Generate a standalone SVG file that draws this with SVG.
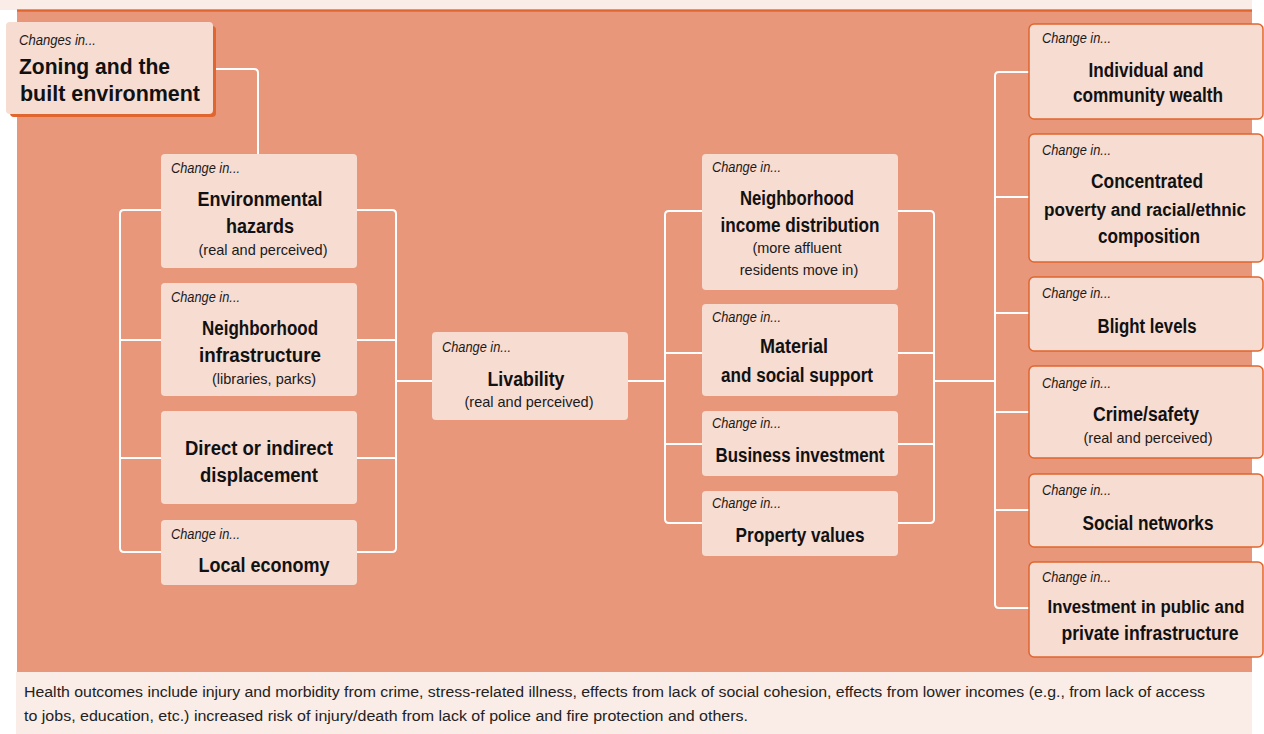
<svg xmlns="http://www.w3.org/2000/svg" width="1264" height="734" viewBox="0 0 1264 734">
<style>
.box{fill:#f7dcd2}
.rbox{fill:#f7dcd2;stroke:#e0652f;stroke-width:1.5}
.cin{font-family:"Liberation Sans",Arial,sans-serif;font-style:italic;font-size:14px;fill:#1a1a1a}
.t{font-family:"Liberation Sans",Arial,sans-serif;font-weight:bold;font-size:20px;fill:#111;text-anchor:middle}
.tn{font-size:18px}
.s{font-family:"Liberation Sans",Arial,sans-serif;font-size:14.5px;fill:#1a1a1a;text-anchor:middle}
.cap{font-family:"Liberation Sans",Arial,sans-serif;font-size:14px;fill:#222}
.conn path{fill:none;stroke:#ffffff;stroke-width:2}
</style>
<rect x="0" y="0" width="1264" height="734" fill="#ffffff"/>
<rect x="0" y="0" width="1252" height="10" fill="#faece7"/>
<rect x="17" y="9.5" width="1235" height="663" fill="#e8977a"/>
<rect x="17" y="9.5" width="1235" height="2.2" fill="#e0652f"/>
<rect x="16" y="672" width="1236" height="62" fill="#faece7"/>

<g class="conn" id="connectors">
<path d="M213,69 H254 Q258,69 258,73 V154"/>
<path d="M161,210 H124 Q120,210 120,214 V548 Q120,552 124,552 H161 M120,340 H161 M120,458 H161"/>
<path d="M357,210 H392 Q396,210 396,214 V548 Q396,552 392,552 H357 M357,340 H396 M357,458 H396"/>
<path d="M396,381 H432"/>
<path d="M628,381 H665"/>
<path d="M702,211 H669 Q665,211 665,215 V519 Q665,523 669,523 H702 M665,353 H702 M665,444 H702"/>
<path d="M898,211 H930 Q934,211 934,215 V519 Q934,523 930,523 H898 M898,353 H934 M898,444 H934"/>
<path d="M934,381 H995"/>
<path d="M1029,72 H999 Q995,72 995,76 V604 Q995,608 999,608 H1029 M995,197 H1029 M995,313 H1029 M995,412 H1029 M995,510 H1029"/>
</g>

<g id="zoning">
<rect x="10" y="26" width="206" height="91" rx="4" fill="#e0652f"/>
<rect x="6" y="22" width="207" height="92" rx="4" class="box"/>
<text x="19" y="45" class="cin" textLength="77" lengthAdjust="spacingAndGlyphs">Changes in...</text>
<text x="19" y="74" class="t" style="text-anchor:start;font-size:22px" textLength="151" lengthAdjust="spacingAndGlyphs">Zoning and the</text>
<text x="20" y="101" class="t" style="text-anchor:start;font-size:22px" textLength="180" lengthAdjust="spacingAndGlyphs">built environment</text>
</g>

<g id="env-hazards">
<rect x="161" y="154" width="196" height="114" rx="4" class="box"/>
<text x="171" y="173" class="cin" textLength="69" lengthAdjust="spacingAndGlyphs">Change in...</text>
<text x="260" y="206" class="t" textLength="125" lengthAdjust="spacingAndGlyphs">Environmental</text>
<text x="260" y="233" class="t" textLength="68" lengthAdjust="spacingAndGlyphs">hazards</text>
<text x="263" y="255" class="s">(real and perceived)</text>
</g>

<g id="infrastructure">
<rect x="161" y="283" width="196" height="113" rx="4" class="box"/>
<text x="171" y="302" class="cin" textLength="69" lengthAdjust="spacingAndGlyphs">Change in...</text>
<text x="260" y="335" class="t" textLength="116" lengthAdjust="spacingAndGlyphs">Neighborhood</text>
<text x="260" y="362" class="t" textLength="122" lengthAdjust="spacingAndGlyphs">infrastructure</text>
<text x="264" y="384" class="s">(libraries, parks)</text>
</g>

<g id="displacement">
<rect x="161" y="411" width="196" height="93" rx="4" class="box"/>
<text x="259" y="455" class="t" textLength="148" lengthAdjust="spacingAndGlyphs">Direct or indirect</text>
<text x="259" y="482" class="t" textLength="118" lengthAdjust="spacingAndGlyphs">displacement</text>
</g>

<g id="local-economy">
<rect x="161" y="520" width="196" height="65" rx="4" class="box"/>
<text x="171" y="539" class="cin" textLength="69" lengthAdjust="spacingAndGlyphs">Change in...</text>
<text x="264" y="572" class="t" textLength="131" lengthAdjust="spacingAndGlyphs">Local economy</text>
</g>

<g id="livability">
<rect x="432" y="332" width="196" height="88" rx="4" class="box"/>
<text x="442" y="352" class="cin" textLength="69" lengthAdjust="spacingAndGlyphs">Change in...</text>
<text x="526" y="386" class="t" textLength="77" lengthAdjust="spacingAndGlyphs">Livability</text>
<text x="529" y="407" class="s">(real and perceived)</text>
</g>

<g id="income-distribution">
<rect x="702" y="154" width="196" height="136" rx="4" class="box"/>
<text x="712" y="172" class="cin" textLength="69" lengthAdjust="spacingAndGlyphs">Change in...</text>
<text x="797" y="205" class="t" textLength="114" lengthAdjust="spacingAndGlyphs">Neighborhood</text>
<text x="800" y="232" class="t" textLength="159" lengthAdjust="spacingAndGlyphs">income distribution</text>
<text x="797" y="253" class="s">(more affluent</text>
<text x="799" y="275" class="s">residents move in)</text>
</g>

<g id="material-support">
<rect x="702" y="304" width="196" height="92" rx="4" class="box"/>
<text x="712" y="322" class="cin" textLength="69" lengthAdjust="spacingAndGlyphs">Change in...</text>
<text x="794" y="353" class="t" textLength="68" lengthAdjust="spacingAndGlyphs">Material</text>
<text x="797" y="382" class="t" textLength="152" lengthAdjust="spacingAndGlyphs">and social support</text>
</g>

<g id="business-investment">
<rect x="702" y="411" width="196" height="65" rx="4" class="box"/>
<text x="712" y="428" class="cin" textLength="69" lengthAdjust="spacingAndGlyphs">Change in...</text>
<text x="800" y="462" class="t" textLength="169" lengthAdjust="spacingAndGlyphs">Business investment</text>
</g>

<g id="property-values">
<rect x="702" y="491" width="196" height="65" rx="4" class="box"/>
<text x="712" y="508" class="cin" textLength="69" lengthAdjust="spacingAndGlyphs">Change in...</text>
<text x="800" y="542" class="t" textLength="129" lengthAdjust="spacingAndGlyphs">Property values</text>
</g>

<g id="wealth">
<rect x="1029" y="24" width="234" height="95" rx="5" class="rbox"/>
<text x="1042" y="43" class="cin" textLength="69" lengthAdjust="spacingAndGlyphs">Change in...</text>
<text x="1146" y="77" class="t" textLength="115" lengthAdjust="spacingAndGlyphs">Individual and</text>
<text x="1148" y="102" class="t" textLength="150" lengthAdjust="spacingAndGlyphs">community wealth</text>
</g>

<g id="poverty">
<rect x="1029" y="134" width="234" height="128" rx="5" class="rbox"/>
<text x="1042" y="155" class="cin" textLength="69" lengthAdjust="spacingAndGlyphs">Change in...</text>
<text x="1147" y="188" class="t" textLength="112" lengthAdjust="spacingAndGlyphs">Concentrated</text>
<text x="1145" y="216" class="t tn" textLength="202" lengthAdjust="spacingAndGlyphs">poverty and racial/ethnic</text>
<text x="1149" y="243" class="t" textLength="102" lengthAdjust="spacingAndGlyphs">composition</text>
</g>

<g id="blight">
<rect x="1029" y="277" width="234" height="74" rx="5" class="rbox"/>
<text x="1042" y="298" class="cin" textLength="69" lengthAdjust="spacingAndGlyphs">Change in...</text>
<text x="1147" y="333" class="t" textLength="99" lengthAdjust="spacingAndGlyphs">Blight levels</text>
</g>

<g id="crime">
<rect x="1029" y="366" width="234" height="92" rx="5" class="rbox"/>
<text x="1042" y="388" class="cin" textLength="69" lengthAdjust="spacingAndGlyphs">Change in...</text>
<text x="1146" y="421" class="t" textLength="106" lengthAdjust="spacingAndGlyphs">Crime/safety</text>
<text x="1148" y="443" class="s">(real and perceived)</text>
</g>

<g id="social-networks">
<rect x="1029" y="474" width="234" height="73" rx="5" class="rbox"/>
<text x="1042" y="495" class="cin" textLength="69" lengthAdjust="spacingAndGlyphs">Change in...</text>
<text x="1148" y="530" class="t" textLength="131" lengthAdjust="spacingAndGlyphs">Social networks</text>
</g>

<g id="infrastructure-investment">
<rect x="1029" y="562" width="234" height="95" rx="5" class="rbox"/>
<text x="1042" y="582" class="cin" textLength="69" lengthAdjust="spacingAndGlyphs">Change in...</text>
<text x="1146" y="613" class="t tn" textLength="197" lengthAdjust="spacingAndGlyphs">Investment in public and</text>
<text x="1150" y="640" class="t" textLength="177" lengthAdjust="spacingAndGlyphs">private infrastructure</text>
</g>

<g id="caption">
<text x="24" y="697" class="cap" textLength="1181" lengthAdjust="spacingAndGlyphs">Health outcomes include injury and morbidity from crime, stress-related illness, effects from lack of social cohesion, effects from lower incomes (e.g., from lack of access</text>
<text x="24" y="721" class="cap" textLength="724" lengthAdjust="spacingAndGlyphs">to jobs, education, etc.) increased risk of injury/death from lack of police and fire protection and others.</text>
</g>
</svg>
